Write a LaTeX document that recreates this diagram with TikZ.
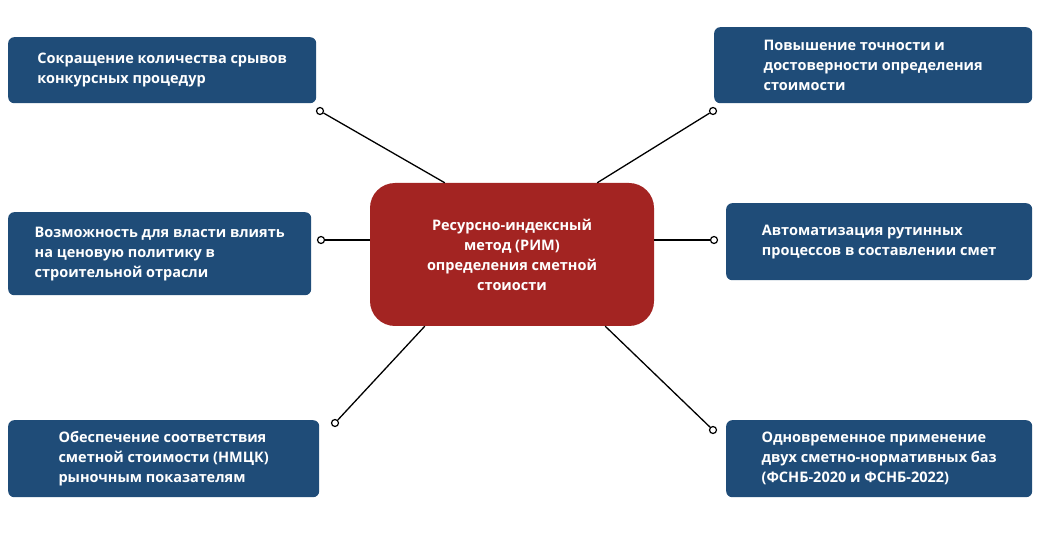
\documentclass[tikz,border=0pt]{standalone}
\usepackage{fontspec}
\setmainfont{Open Sans}
\usepackage{xcolor}
\definecolor{boxblue}{HTML}{1F4C78}
\definecolor{centred}{HTML}{A32422}
\tikzset{
  infobox/.style={fill=boxblue, rounded corners=6pt, text=white, anchor=north west,
    align=left, inner xsep=14pt, inner ysep=0pt, font=\fontsize{14.5}{20}\selectfont\bfseries},
  dot/.style={circle, draw=black, fill=white, line width=1.2pt, inner sep=0pt, minimum size=7pt},
  link/.style={line width=1.3pt, black}
}
\begin{document}
\begin{tikzpicture}[x=1pt,y=-1pt]
                \useasboundingbox (0,0) rectangle (1053,537);
                % Centre node
                \node[fill=centred, rounded corners=25pt, text=white, minimum width=284pt, minimum height=143pt,
                  align=center, font=\fontsize{14.5}{20}\selectfont\bfseries] (rim) at (512,254.5)
                  {Ресурсно-индексный\\метод (РИМ)\\определения сметной\\стоиости};

                % Outer boxes
                \node[infobox, minimum width=308pt, minimum height=66pt] (tl) at (8,37)
                  {Сокращение количества срывов\\конкурсных процедур};
                \node[infobox, minimum width=318pt, minimum height=76pt] (tr) at (714,27)
                  {Повышение точности и\\достоверности определения\\стоимости};
                \node[infobox, minimum width=303pt, minimum height=83pt] (ml) at (8,212)
                  {Возможность для власти влиять\\на ценовую политику в\\строительной отрасли};
                \node[infobox, minimum width=306pt, minimum height=77pt] (mr) at (726,203)
                  {Автоматизация рутинных\\процессов в составлении смет};
                \node[infobox, minimum width=311pt, minimum height=77pt] (bl) at (8,420)
                  {Обеспечение соответствия\\сметной стоимости (НМЦК)\\рыночным показателям};
                \node[infobox, minimum width=306pt, minimum height=77pt] (br) at (726,420)
                  {Одновременное применение\\двух сметно-нормативных баз\\(ФСНБ-2020 и ФСНБ-2022)};

                % Connector ends
                \node[dot] (dtl) at (320,111) {};
                \node[dot] (dtr) at (713,111) {};
                \node[dot] (dml) at (321,240) {};
                \node[dot] (dmr) at (714,240) {};
                \node[dot] (dbl) at (335,423) {};
                \node[dot] (dbr) at (713,430) {};

                % Connectors
                \draw[link] (dtl) -- ([xshift=75pt]rim.north west);
                \draw[link] (dtr) -- ([xshift=-57pt]rim.north east);
                \draw[link] (dml) -- ([yshift=14.5pt]rim.west);
                \draw[link] (dmr) -- ([yshift=14.5pt]rim.east);
                \draw[link] (dbl) -- ([xshift=55pt]rim.south west);
                \draw[link] (dbr) -- ([xshift=-49pt]rim.south east);
            \end{tikzpicture}
\end{document}
